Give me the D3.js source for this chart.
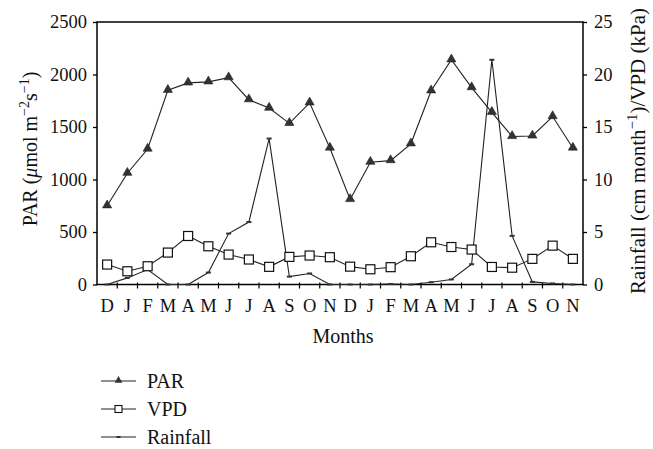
<!DOCTYPE html>
<html>
<head>
<meta charset="utf-8">
<script src="https://cdn.jsdelivr.net/npm/d3@7"></script>
<style>
    body { margin: 0; background: #fff; }
    svg text { font-family: "Liberation Serif", "DejaVu Serif", serif; }
    .frame { fill: none; stroke: #000; stroke-width: 1.5px; }
    .tick line { stroke: #000; }
    .series { fill: none; stroke: #222; stroke-width: 1.1px; }
</style>
</head>
<body>
<div id="chart"></div>
<script>
var MONTHS = ["D", "J", "F", "M", "A", "M", "J", "J", "A", "S", "O", "N",
              "D", "J", "F", "M", "A", "M", "J", "J", "A", "S", "O", "N"];

// PAR, left axis (umol m-2 s-1)
var PAR = [750, 1060, 1290, 1850, 1920, 1930, 1970, 1760, 1680, 1535, 1730, 1300,
           810, 1165, 1180, 1340, 1845, 2140, 1875, 1640, 1410, 1415, 1600, 1300];

// VPD, right axis (kPa)
var VPD = [1.9, 1.26, 1.74, 3.04, 4.62, 3.64, 2.85, 2.38, 1.68, 2.63, 2.76, 2.6,
           1.7, 1.45, 1.65, 2.69, 4.02, 3.57, 3.33, 1.67, 1.6, 2.44, 3.7, 2.44];

// Rainfall, right axis (cm month-1)
var RAIN = [0, 0.63, 1.42, 0, 0, 1.14, 4.85, 5.95, 13.9, 0.75, 1.05, 0,
            0, 0, 0.05, 0, 0.22, 0.48, 1.93, 21.4, 4.63, 0.25, 0.1, 0];

var LEFT_TICKS = [0, 500, 1000, 1500, 2000, 2500];
var RIGHT_TICKS = [0, 5, 10, 15, 20, 25];

var width = 653,
    height = 449;
var plot = {left: 97, right: 583, top: 22, bottom: 284.5};

var svg = d3.select("#chart")
    .append("svg")
        .attr("width", width)
        .attr("height", height);

// Set the ranges
var x = d3.scaleBand()
    .domain(d3.range(MONTHS.length))
    .range([plot.left, plot.right]);
var cx = function(i) { return x(i) + x.bandwidth() / 2; };

var yLeft = d3.scaleLinear().domain([0, 2500]).range([plot.bottom, plot.top]);
var yRight = d3.scaleLinear().domain([0, 25]).range([plot.bottom, plot.top]);

// Axes
var leftAxis = d3.axisLeft(yLeft).tickValues(LEFT_TICKS).tickFormat(d3.format("d"))
    .tickSize(4).tickPadding(6);
var rightAxis = d3.axisRight(yRight).tickValues(RIGHT_TICKS).tickFormat(d3.format("d"))
    .tickSize(4).tickPadding(7);

var gl = svg.append("g")
    .attr("transform", "translate(" + plot.left + ",0)")
    .call(leftAxis);
var gr = svg.append("g")
    .attr("transform", "translate(" + plot.right + ",0)")
    .call(rightAxis);
[gl, gr].forEach(function(g) {
    g.attr("font-family", null).attr("font-size", null);
    g.select(".domain").remove();
    g.selectAll("text").style("font-size", "18.5px").attr("fill", "#111");
    g.selectAll(".tick line").attr("stroke-width", 1.3);
});

// bottom ticks at month boundaries
svg.append("g")
    .selectAll("line")
    .data(d3.range(1, MONTHS.length))
    .enter().append("line")
        .attr("x1", function(d) { return x(d); })
        .attr("x2", function(d) { return x(d); })
        .attr("y1", plot.bottom - 2)
        .attr("y2", plot.bottom + 4)
        .attr("stroke", "#000")
        .attr("stroke-width", 1.2);

// month labels
svg.append("g")
    .selectAll("text")
    .data(MONTHS)
    .enter().append("text")
        .attr("x", function(d, i) { return cx(i); })
        .attr("y", 312)
        .attr("text-anchor", "middle")
        .style("font-size", "18.5px")
        .attr("fill", "#111")
        .text(function(d) { return d; });

// frame
svg.append("rect")
    .attr("class", "frame")
    .attr("x", plot.left)
    .attr("y", plot.top)
    .attr("width", plot.right - plot.left)
    .attr("height", plot.bottom - plot.top);

// Define the lines
var parLine = d3.line()
    .x(function(d, i) { return cx(i); })
    .y(function(d) { return yLeft(d); });
var rightLine = d3.line()
    .x(function(d, i) { return cx(i); })
    .y(function(d) { return yRight(d); });

svg.append("path").attr("class", "series").attr("d", rightLine(RAIN));
svg.append("path").attr("class", "series").attr("d", rightLine(VPD));
svg.append("path").attr("class", "series").attr("d", parLine(PAR));

// rainfall dashes
svg.selectAll(".rain")
    .data(RAIN)
    .enter().append("rect")
        .attr("class", "rain")
        .attr("x", function(d, i) { return cx(i) - 2.5; })
        .attr("y", function(d) { return yRight(d) - 1; })
        .attr("width", 5)
        .attr("height", 2)
        .attr("fill", "#333");

// VPD squares
svg.selectAll(".vpd")
    .data(VPD)
    .enter().append("rect")
        .attr("class", "vpd")
        .attr("x", function(d, i) { return cx(i) - 4.5; })
        .attr("y", function(d) { return yRight(d) - 4.5; })
        .attr("width", 9)
        .attr("height", 9)
        .attr("fill", "#fff")
        .attr("stroke", "#111")
        .attr("stroke-width", 1.2);

// PAR triangles
var tri = d3.symbol().type(d3.symbolTriangle).size(36);
svg.selectAll(".par")
    .data(PAR)
    .enter().append("path")
        .attr("class", "par")
        .attr("d", tri)
        .attr("transform", function(d, i) { return "translate(" + cx(i) + "," + (yLeft(d) - 0.5) + ")"; })
        .attr("fill", "#333")
        .attr("stroke", "#222")
        .attr("stroke-width", 0.6);

// axis titles
var leftTitle = svg.append("text")
    .attr("transform", "translate(37,149) rotate(-90)")
    .attr("text-anchor", "middle")
    .style("font-size", "20px")
    .attr("fill", "#111");
leftTitle.append("tspan").text("PAR (");
leftTitle.append("tspan").style("font-style", "italic").text("\u03bc");
leftTitle.append("tspan").text("mol m");
leftTitle.append("tspan").attr("dy", -8).style("font-size", "14px").text("\u22122");
leftTitle.append("tspan").attr("dy", 8).text("s");
leftTitle.append("tspan").attr("dy", -8).style("font-size", "14px").text("\u22121");
leftTitle.append("tspan").attr("dy", 8).text(")");

var rightTitle = svg.append("text")
    .attr("transform", "translate(645,151) rotate(-90)")
    .attr("text-anchor", "middle")
    .style("font-size", "21px")
    .attr("fill", "#111");
rightTitle.append("tspan").text("Rainfall (cm month");
rightTitle.append("tspan").attr("dy", -8).style("font-size", "15px").text("\u22121");
rightTitle.append("tspan").attr("dy", 8).text(")/VPD (kPa)");

svg.append("text")
    .attr("x", (plot.left + plot.right) / 2 + 3)
    .attr("y", 343)
    .attr("text-anchor", "middle")
    .style("font-size", "20px")
    .attr("fill", "#111")
    .text("Months");

// legend
var legend = svg.append("g").attr("transform", "translate(101,0)");
var rows = [
    {name: "PAR", y: 381},
    {name: "VPD", y: 409},
    {name: "Rainfall", y: 437}
];
legend.selectAll("line")
    .data(rows)
    .enter().append("line")
        .attr("x1", 0)
        .attr("x2", 35)
        .attr("y1", function(d) { return d.y; })
        .attr("y2", function(d) { return d.y; })
        .attr("stroke", "#222")
        .attr("stroke-width", 1.1);
legend.append("path")
    .attr("d", d3.symbol().type(d3.symbolTriangle).size(26))
    .attr("transform", "translate(17.5," + (rows[0].y - 0.5) + ")")
    .attr("fill", "#333");
legend.append("rect")
    .attr("x", 14).attr("y", rows[1].y - 3.5)
    .attr("width", 7).attr("height", 7)
    .attr("fill", "#fff").attr("stroke", "#111").attr("stroke-width", 1.1);
legend.append("rect")
    .attr("x", 15.5).attr("y", rows[2].y - 1)
    .attr("width", 4).attr("height", 2)
    .attr("fill", "#333");
legend.selectAll("text")
    .data(rows)
    .enter().append("text")
        .attr("x", 46)
        .attr("y", function(d) { return d.y + 6.5; })
        .style("font-size", "20px")
        .attr("fill", "#111")
        .text(function(d) { return d.name; });
</script>
</body>
</html>
